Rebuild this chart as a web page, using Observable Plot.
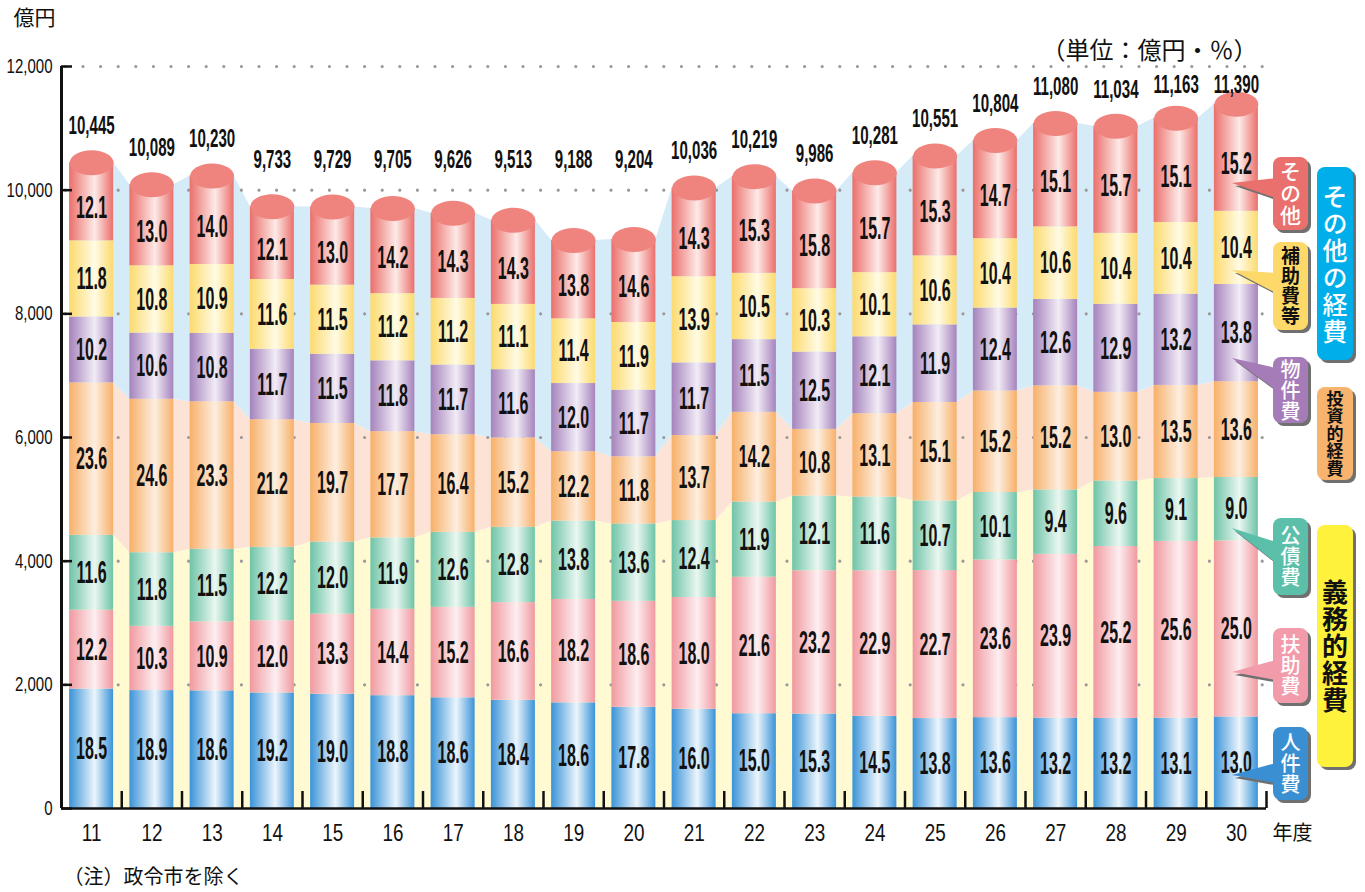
<!DOCTYPE html>
<html><head><meta charset="utf-8">
<script src="https://cdn.jsdelivr.net/npm/d3@7"></script>
<script src="https://cdn.jsdelivr.net/npm/@observablehq/plot@0.6"></script>
<style>
body{margin:0;background:#fff}
#chart svg{display:block}
</style>
</head><body><div id="chart"></div>
<script>
// ---- data ----
const years = [11,12,13,14,15,16,17,18,19,20,21,22,23,24,25,26,27,28,29,30];
const totals = [10445,10089,10230,9733,9729,9705,9626,9513,9188,9204,10036,10219,9986,10281,10551,10804,11080,11034,11163,11390];
const jinkenhi = [18.5,18.9,18.6,19.2,19.0,18.8,18.6,18.4,18.6,17.8,16.0,15.0,15.3,14.5,13.8,13.6,13.2,13.2,13.1,13.0];
const fujohi   = [12.2,10.3,10.9,12.0,13.3,14.4,15.2,16.6,18.2,18.6,18.0,21.6,23.2,22.9,22.7,23.6,23.9,25.2,25.6,25.0];
const kosaihi  = [11.6,11.8,11.5,12.2,12.0,11.9,12.6,12.8,13.8,13.6,12.4,11.9,12.1,11.6,10.7,10.1,9.4,9.6,9.1,9.0];
const toshiteki= [23.6,24.6,23.3,21.2,19.7,17.7,16.4,15.2,12.2,11.8,13.7,14.2,10.8,13.1,15.1,15.2,15.2,13.0,13.5,13.6];
const bukkenhi = [10.2,10.6,10.8,11.7,11.5,11.8,11.7,11.6,12.0,11.7,11.7,11.5,12.5,12.1,11.9,12.4,12.6,12.9,13.2,13.8];
const hojohi   = [11.8,10.8,10.9,11.6,11.5,11.2,11.2,11.1,11.4,11.9,13.9,10.5,10.3,10.1,10.6,10.4,10.6,10.4,10.4,10.4];
const sonota   = [12.1,13.0,14.0,12.1,13.0,14.2,14.3,14.3,13.8,14.6,14.3,15.3,15.8,15.7,15.3,14.7,15.1,15.7,15.1,15.2];
const categories = ["人件費","扶助費","公債費","投資的経費","物件費","補助費等","その他"];
const series = [jinkenhi, fujohi, kosaihi, toshiteki, bukkenhi, hojohi, sonota];
const yTicks = [0,2000,4000,6000,8000,10000,12000];

// ---- styles ----
const gradColors = [
  ["#3a93d8","#ecf5fc"],
  ["#f0999f","#fdeef1"],
  ["#6fc4a8","#eaf7f1"],
  ["#f7b069","#fdeee0"],
  ["#a583bc","#f2ecf6"],
  ["#fcda6e","#fffbe4"],
  ["#eb6f6b","#fdeae7"]
];
const capColor = "#ef847f";
const bandColors = ["#fffad2","#fde3d5","#d5ebf8"];
const W = 1365, H = 892, ML = 61, MR = 99, MT = 66, MB = 84;
const XPX = (W - ML - MR) / 20;          // px per year
const YPX = (H - MT - MB) / 12000;       // px per 億円
const HW = 0.365;                        // half bar width (years)
const RX = HW * XPX, RY = 12.5;
const numFont = "'Liberation Sans', Arial, sans-serif";
const jpFont = "'Noto Sans CJK JP', sans-serif";

// ---- derived tables ----
const tops = years.map((_, i) => {
  const sum = d3.sum(series, s => s[i]);
  let c = 0;
  return series.map(s => (c += s[i], c / sum * totals[i]));
});
const segs = [];
years.forEach((yr, i) => series.forEach((s, k) => {
  segs.push({year: yr, k, lo: k ? tops[i][k-1] : 0, hi: tops[i][k], pct: s[i]});
}));
const bandPts = years.flatMap((yr, i) => [-HW, HW].map(o => ({
  x: yr + o, c3: tops[i][2], c4: tops[i][3], tot: totals[i]
})));
const totalRows = years.map((yr, i) => ({year: yr, total: totals[i]}));

const capSymbol = {
  draw(ctx) {
    const k = 0.5523, rx = RX, ry = RY;
    ctx.moveTo(-rx, 0);
    ctx.bezierCurveTo(-rx, -ry*k, -rx*k, -ry, 0, -ry);
    ctx.bezierCurveTo(rx*k, -ry, rx, -ry*k, rx, 0);
    ctx.bezierCurveTo(rx, ry*k, rx*k, ry, 0, ry);
    ctx.bezierCurveTo(-rx*k, ry, -rx, ry*k, -rx, 0);
    ctx.closePath();
  }
};

const barMarks = categories.map((c, k) => Plot.rect(segs.filter(d => d.k === k), {
  x1: d => d.year - HW, x2: d => d.year + HW, y1: "lo", y2: "hi",
  fill: `url(#grad${k})`
}));

const chart = Plot.plot({
  width: W, height: H,
  marginTop: MT, marginBottom: MB, marginLeft: ML, marginRight: MR,
  x: {domain: [10.5, 30.5], axis: null},
  y: {domain: [0, 12000], axis: null},
  style: {fontFamily: numFont, background: "#fff", color: "#111", overflow: "visible"},
  marks: [
    Plot.areaY(bandPts, {x: "x", y1: 0, y2: "c3", fill: bandColors[0], curve: "linear"}),
    Plot.areaY(bandPts, {x: "x", y1: "c3", y2: "c4", fill: bandColors[1], curve: "linear"}),
    Plot.areaY(bandPts, {x: "x", y1: "c4", y2: "tot", fill: bandColors[2], curve: "linear"}),
    Plot.ruleY(yTicks.filter(v => v > 0), {x1: 10.5, x2: 30.5, stroke: "#999", strokeWidth: 3.2,
      strokeDasharray: "0,17.6", strokeLinecap: "round", strokeDashoffset: -22}),
    ...barMarks,
    Plot.dot(totalRows, {x: "year", y: "total", symbol: capSymbol, r: 5, fill: capColor, stroke: "none"}),
    Plot.text(segs, {
      x: "year",
      y: d => d.k === 6 ? (d.lo + d.hi) / 2 - (RY / 2) / YPX : (d.lo + d.hi) / 2,
      text: d => d.pct.toFixed(1), fontSize: 32, fontWeight: "bold", fill: "#111", ariaDescription: "pct"
    }),
    Plot.text(totalRows, {
      x: "year", y: d => Math.min(Math.max(d.total, 9900), 11100), dy: -37,
      text: d => d3.format(",")(d.total), fontSize: 26, fontWeight: "bold", fill: "#111", ariaDescription: "tot"
    }),
    // axes
    Plot.ruleY([0], {x1: 10.5, x2: 30.5, stroke: "#111", strokeWidth: 2.5}),
    Plot.ruleX([10.5], {y1: 0, y2: 12000, stroke: "#111", strokeWidth: 3}),
    Plot.ruleY(yTicks, {x1: 10.5, x2: 10.5 + 11 / XPX, stroke: "#111", strokeWidth: 2.5}),
    Plot.ruleX(years.map(y => y + 0.5), {y1: 0, y2: 17 / YPX, stroke: "#111", strokeWidth: 2.5}),
    Plot.text(yTicks, {x: 10.5, y: d => d, dx: -9, text: d => d3.format(",")(d),
      textAnchor: "end", fontSize: 20, fill: "#111", ariaDescription: "ylab"}),
    Plot.text(years, {x: d => d, y: 0, dy: 25, text: d => String(d), fontSize: 23, fill: "#111", ariaDescription: "xlab"}),
    // annotations
    Plot.text(["億円"], {frameAnchor: "top-left", dx: -48, dy: -48, lineAnchor: "middle",
      fontFamily: jpFont, fontSize: 21, fill: "#111"}),
    Plot.text(["（単位：億円・％）"], {frameAnchor: "top-right", dx: -9, dy: -15, lineAnchor: "middle",
      fontFamily: jpFont, fontSize: 24, fill: "#111"}),
    Plot.text(["年度"], {frameAnchor: "bottom-right", dx: 6, dy: 25, lineAnchor: "middle", textAnchor: "start",
      fontFamily: jpFont, fontSize: 20, fill: "#111"}),
    Plot.text(["（注）政令市を除く"], {frameAnchor: "bottom-left", dx: 2, dy: 69, lineAnchor: "middle",
      fontFamily: jpFont, fontSize: 20, fill: "#111"})
  ]
});

document.getElementById("chart").append(chart);

// gradients
const svg = d3.select(chart);
const defs = svg.insert("defs", ":first-child");
gradColors.forEach(([edge, mid], k) => {
  const g = defs.append("linearGradient").attr("id", `grad${k}`).attr("x1", 0).attr("x2", 1).attr("y1", 0).attr("y2", 0);
  g.append("stop").attr("offset", 0).attr("stop-color", edge);
  g.append("stop").attr("offset", 0.58).attr("stop-color", mid);
  g.append("stop").attr("offset", 1).attr("stop-color", edge);
});

// condensed numerals (squeeze glyphs horizontally)
function condense(label, s) {
  svg.selectAll(`g[aria-description="${label}"] text`).each(function() {
    const w = this.getComputedTextLength();
    if (w > 0) {
      this.setAttribute("textLength", (w * s).toFixed(2));
      this.setAttribute("lengthAdjust", "spacingAndGlyphs");
    }
  });
}
condense("pct", 0.5);
condense("tot", 0.58);
condense("ylab", 0.75);
condense("xlab", 0.82);

// callouts (legend labels), vertical text
const apexX = ML + (30 - 10.5) * XPX - 4;
const callouts = [
  {t: "その他", fill: "#e9706c", color: "#fff", x: 1273, w: 35, y0: 157, y1: 230, fs: 21, sp: 22, ptr: [183, 178, 198]},
  {t: "補助費等", fill: "#fdd96a", color: "#111", x: 1273, w: 35, y0: 242, y1: 330, fs: 19, sp: 20, bold: true, ptr: [270, 273, 293]},
  {t: "物件費", fill: "#a57bb8", color: "#fff", x: 1273, w: 35, y0: 357, y1: 423, fs: 20, sp: 21, ptr: [358, 368, 390]},
  {t: "公債費", fill: "#5cbfaa", color: "#fff", x: 1273, w: 35, y0: 518, y1: 595, fs: 20, sp: 21, ptr: [528, 542, 563]},
  {t: "扶助費", fill: "#f29cab", color: "#fff", x: 1273, w: 35, y0: 628, y1: 703, fs: 20, sp: 21, ptr: [672, 660, 680]},
  {t: "人件費", fill: "#3a8fd2", color: "#fff", x: 1273, w: 35, y0: 727, y1: 800, fs: 20, sp: 21, ptr: [775, 763, 783]},
  {t: "その他の経費", fill: "#00aeea", color: "#fff", x: 1317, w: 36, y0: 167, y1: 360, fs: 25, sp: 27},
  {t: "投資的経費", fill: "#f6b46e", color: "#111", x: 1317, w: 36, y0: 387, y1: 480, fs: 17, sp: 17.5, bold: true},
  {t: "義務的経費", fill: "#fff23c", color: "#111", x: 1317, w: 36, y0: 525, y1: 767, fs: 26, sp: 27, bold: true}
];
const layer = svg.append("g").attr("aria-label", "callouts");
callouts.forEach(c => {
  const g = layer.append("g");
  const shape = (sel, dx, dy, fill) => {
    sel.append("rect").attr("x", c.x + dx).attr("y", c.y0 + dy).attr("width", c.w).attr("height", c.y1 - c.y0)
      .attr("rx", 8).attr("fill", fill);
    if (c.ptr) sel.append("path")
      .attr("d", `M${c.x + 3 + dx},${c.ptr[1] + dy}L${apexX + dx},${c.ptr[0] + dy}L${c.x + 3 + dx},${c.ptr[2] + dy}Z`)
      .attr("fill", fill);
  };
  shape(g, 3, 3, "#707070");
  shape(g, 0, 0, c.fill);
  g.append("text").text(c.t)
    .attr("x", c.x + c.w / 2).attr("y", (c.y0 + c.y1) / 2 + (c.sp - c.fs) / 2)
    .attr("writing-mode", "vertical-rl")
    .style("writing-mode", "vertical-rl")
    .attr("text-anchor", "middle")
    .attr("letter-spacing", c.sp - c.fs)
    .attr("font-family", jpFont).attr("font-size", c.fs)
    .attr("font-weight", c.bold ? 700 : 500)
    .attr("fill", c.color);
});
</script>
</body></html>
